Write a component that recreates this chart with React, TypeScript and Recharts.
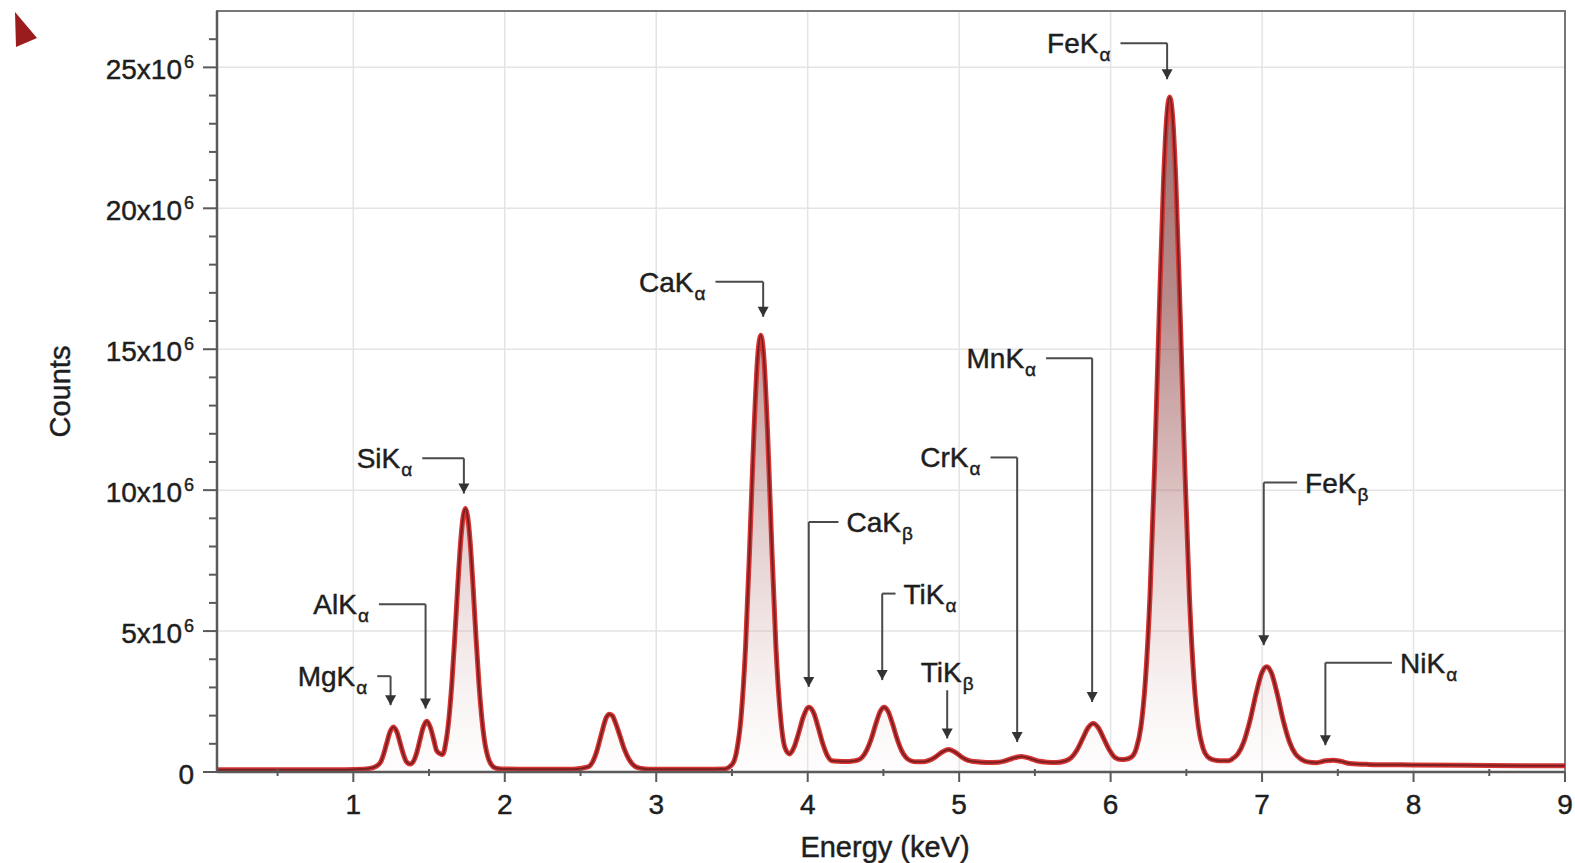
import React from "react";
import {
  ComposedChart,
  Area,
  Line,
  XAxis,
  YAxis,
  CartesianGrid,
  ReferenceLine,
  ReferenceDot,
  ReferenceArea,
} from "recharts";

// Energy (keV) sample positions
const energyKeV = [
  0.1, 0.3, 0.5, 0.7, 0.9, 1.0, 1.1, 1.15, 1.18, 1.2, 1.22, 1.24, 1.265, 1.29, 1.31, 1.33, 1.35, 1.375,
  1.4, 1.42, 1.44, 1.46, 1.485, 1.51, 1.53, 1.55, 1.57, 1.59, 1.61, 1.63, 1.65, 1.67, 1.69, 1.71, 1.725,
  1.74, 1.755, 1.77, 1.79, 1.81, 1.83, 1.85, 1.87, 1.89, 1.91, 1.94, 1.98, 2.1, 2.3, 2.45, 2.55, 2.58,
  2.61, 2.64, 2.67, 2.69, 2.71, 2.73, 2.76, 2.79, 2.82, 2.86, 2.9, 2.95, 3.1, 3.3, 3.45, 3.5, 3.53, 3.56,
  3.59, 3.62, 3.645, 3.67, 3.69, 3.71, 3.735, 3.76, 3.79, 3.82, 3.85, 3.88, 3.91, 3.94, 3.97, 4.0, 4.01,
  4.04, 4.07, 4.1, 4.13, 4.16, 4.2, 4.25, 4.3, 4.33, 4.36, 4.39, 4.42, 4.45, 4.48, 4.505, 4.53, 4.56,
  4.59, 4.62, 4.65, 4.68, 4.72, 4.76, 4.8, 4.84, 4.88, 4.93, 4.98, 5.02, 5.06, 5.1, 5.18, 5.26, 5.3,
  5.35, 5.41, 5.47, 5.52, 5.58, 5.64, 5.7, 5.74, 5.78, 5.82, 5.85, 5.885, 5.92, 5.95, 5.99, 6.03, 6.07,
  6.1, 6.14, 6.17, 6.2, 6.23, 6.26, 6.29, 6.32, 6.35, 6.37, 6.39, 6.41, 6.43, 6.46, 6.49, 6.52, 6.55,
  6.58, 6.61, 6.64, 6.68, 6.72, 6.78, 6.8, 6.84, 6.88, 6.92, 6.96, 7.0, 7.03, 7.06, 7.1, 7.14, 7.18,
  7.22, 7.26, 7.3, 7.36, 7.42, 7.47, 7.52, 7.58, 7.7, 8.0, 8.5, 9.0,
];

// Counts (in millions) read at each energy above
const countsM = [
  0.08, 0.08, 0.08, 0.08, 0.08, 0.09, 0.12, 0.2, 0.35, 0.63, 1.01, 1.39, 1.6, 1.39, 1.01, 0.64, 0.37, 0.28,
  0.41, 0.71, 1.14, 1.56, 1.8, 1.56, 1.17, 0.76, 0.66, 0.62, 1.02, 1.83, 3.1, 4.78, 6.64, 8.26, 9.06,
  9.35, 9.06, 8.26, 6.64, 4.78, 3.1, 1.83, 0.98, 0.51, 0.27, 0.14, 0.11, 0.1, 0.1, 0.1, 0.18, 0.36,
  0.78, 1.39, 1.93, 2.05, 2.0, 1.76, 1.29, 0.8, 0.45, 0.2, 0.13, 0.1, 0.1, 0.1, 0.11, 0.26, 0.71, 1.94,
  4.46, 8.42, 12.04, 14.75, 15.5, 14.75, 12.05, 8.42, 4.46, 2.0, 0.86, 0.64, 0.88, 1.38, 1.94, 2.28, 2.3,
  2.09, 1.57, 1.0, 0.58, 0.4, 0.38, 0.37, 0.39, 0.42, 0.53, 0.78, 1.18, 1.71, 2.16, 2.3, 2.16, 1.71,
  1.18, 0.76, 0.51, 0.4, 0.36, 0.36, 0.41, 0.52, 0.68, 0.8, 0.68, 0.52, 0.41, 0.37, 0.34, 0.35, 0.39,
  0.48, 0.55, 0.48, 0.39, 0.35, 0.34, 0.39, 0.51, 0.8, 1.24, 1.56, 1.72, 1.56, 1.24, 0.8, 0.51, 0.44,
  0.45, 0.54, 0.84, 1.6, 3.27, 6.26, 10.76, 16.1, 21.05, 23.2, 23.95, 23.2, 21.05, 16.1, 10.76, 6.26, 3.27,
  1.6, 0.84, 0.54, 0.43, 0.4, 0.4, 0.45, 0.64, 1.08, 1.82, 2.77, 3.54, 3.73, 3.54, 2.77, 1.82, 1.08,
  0.64, 0.45, 0.36, 0.33, 0.4, 0.42, 0.38, 0.3, 0.27, 0.25, 0.23, 0.22,
];

// Axis ticks
const xTicks = [0.5, 1, 1.5, 2, 2.5, 3, 3.5, 4, 4.5, 5, 5.5, 6, 6.5, 7, 7.5, 8, 8.5, 9];
const yTicks = [0, 1, 2, 3, 4, 5, 6, 7, 8, 9, 10, 11, 12, 13, 14, 15, 16, 17, 18, 19, 20, 21, 22, 23, 24, 25, 26];
const yMajorLabels: Record<number, string> = { 0: "0", 5: "5x10", 10: "10x10", 15: "15x10", 20: "20x10", 25: "25x10" };
const gridX = [1, 2, 3, 4, 5, 6, 7, 8];
const gridY = [5, 10, 15, 20, 25];

// Peak annotations: label, subscript, side of label, line start x, peak x, line y, arrow tip y
const annLabel = ["Mg", "Al", "Si", "Ca", "Ca", "Ti", "Ti", "Cr", "Mn", "Fe", "Fe", "Ni"];
const annSub = ["α", "α", "α", "α", "β", "α", "β", "α", "α", "α", "β", "α"];
const annSide = ["left", "left", "left", "left", "right", "right", "top", "left", "left", "left", "right", "right"];
const annX0 = [1.158, 1.169, 1.455, 3.391, 4.203, 4.58, 4.921, 5.207, 5.574, 6.065, 7.231, 7.858];
const annXp = [1.246, 1.477, 1.73, 3.706, 4.007, 4.492, 4.921, 5.383, 5.878, 6.373, 7.011, 7.418];
const annYLine = [3.4, 5.95, 11.13, 17.39, 8.87, 6.33, 2.9, 11.16, 14.68, 25.86, 10.27, 3.88];
const annYTip = [2.37, 2.25, 9.88, 16.15, 3.02, 3.26, 1.19, 1.065, 2.485, 24.58, 4.5, 0.95];

const data = energyKeV.map((e, i) => ({ e, c: countsM[i] }));

const FONT = "'Liberation Sans', Arial, Helvetica, sans-serif";
const TXT = "#1e1e1e";
const AX = "#5a5a5a";
const ANN = "#4a4a4a";
const textStyle = { stroke: TXT, strokeWidth: 0.45, paintOrder: "stroke" as const };

const XTick = (props: any) => {
  const { x, y, payload } = props;
  const v = payload.value as number;
  const major = Number.isInteger(v);
  return (
    <g>
      <line x1={x} x2={x} y1={y - (major ? 0 : 3)} y2={y + (major ? 10 : 4)} stroke={AX} strokeWidth={2} />
      {major && (
        <text x={x} y={y + 42} textAnchor="middle" fontSize={28} fontFamily={FONT} fill={TXT} style={textStyle}>
          {v}
        </text>
      )}
    </g>
  );
};

const YTick = (props: any) => {
  const { x, y, payload } = props;
  const v = payload.value as number;
  const major = v % 5 === 0;
  const lab = yMajorLabels[v];
  return (
    <g>
      <line x1={x - (major ? 14 : 8)} x2={x} y1={y} y2={y} stroke={AX} strokeWidth={2} />
      {major && (
        <text x={x - 23} y={y + 12} textAnchor="end" fontSize={28} fontFamily={FONT} fill={TXT} style={textStyle}>
          {lab}
          {v !== 0 && (
            <tspan dx={2} dy={-11} fontSize={18}>
              6
            </tspan>
          )}
        </text>
      )}
    </g>
  );
};

const LabelText = ({ x, y, anchor, main, sub }: any) => (
  <text x={x} y={y} textAnchor={anchor} fontSize={28} fontFamily={FONT} fill={TXT} style={textStyle}>
    {main}K
    <tspan dx={1} dy={8} fontSize={19}>
      {sub}
    </tspan>
  </text>
);

export default function App() {
  const annotations = annLabel.map((lab, i) => ({
    lab,
    sub: annSub[i],
    side: annSide[i],
    x0: annX0[i],
    xp: annXp[i],
    yl: annYLine[i],
    yt: annYTip[i],
  }));

  return (
    <div style={{ position: "relative", width: 1575, height: 863 }}>
      <style>{"html,body{margin:0;padding:0;overflow:hidden;}"}</style>
      <svg width={60} height={60} style={{ position: "absolute", left: 0, top: 0 }}>
        <polygon points="15,12 37,38 16,47" fill="#9b1c1c" />
      </svg>
      <ComposedChart
        width={1575}
        height={863}
        data={data}
        margin={{ top: 11, right: 10, bottom: 31, left: 0 }}
      >
        <defs>
          <linearGradient id="specFill" x1="0" y1="0" x2="0" y2="1">
            <stop offset="0" stopColor="#5e0f0f" stopOpacity={1} />
            <stop offset="0.3" stopColor="#7d2626" stopOpacity={0.9} />
            <stop offset="0.55" stopColor="#a05a5a" stopOpacity={0.7} />
            <stop offset="0.8" stopColor="#cfa5a5" stopOpacity={0.45} />
            <stop offset="1" stopColor="#f5e8e8" stopOpacity={0.2} />
          </linearGradient>
        </defs>
        <CartesianGrid stroke="#e4e4e4" strokeWidth={1.5} horizontalValues={gridY} verticalValues={gridX} />
        <XAxis
          dataKey="e"
          type="number"
          domain={[0.1, 9]}
          allowDataOverflow
          ticks={xTicks}
          interval={0}
          tickSize={0}
          tickMargin={0}
          tickLine={false}
          tick={<XTick />}
          height={60}
          axisLine={{ stroke: AX, strokeWidth: 2.5 }}
          label={(p: any) => {
            const vb = p.viewBox;
            return (
              <text
                x={vb.x + vb.width / 2 - 6}
                y={vb.y + 85}
                textAnchor="middle"
                fontSize={29}
                fontFamily={FONT}
                fill={TXT}
                style={textStyle}
              >
                Energy (keV)
              </text>
            );
          }}
        />
        <YAxis
          type="number"
          domain={[0, 27]}
          allowDataOverflow
          ticks={yTicks}
          interval={0}
          tickSize={0}
          tickMargin={0}
          tickLine={false}
          tick={<YTick />}
          width={217}
          axisLine={{ stroke: AX, strokeWidth: 2.5 }}
          label={(p: any) => {
            const vb = p.viewBox;
            const cx = vb.x + 60;
            const cy = vb.y + vb.height / 2;
            return (
              <text
                x={cx}
                y={cy}
                transform={`rotate(-90 ${cx} ${cy})`}
                textAnchor="middle"
                dominantBaseline="central"
                fontSize={29}
                fontFamily={FONT}
                fill={TXT}
                style={textStyle}
              >
                Counts
              </text>
            );
          }}
        />
        <ReferenceArea x1={0.1} x2={9} y1={0} y2={27} fill="none" stroke="#777" strokeWidth={2} />
        <Area
          type="monotone"
          dataKey="c"
          stroke="#d83434"
          strokeWidth={5}
          fill="url(#specFill)"
          isAnimationActive={false}
          dot={false}
          activeDot={false}
        />
        <Line
          type="monotone"
          dataKey="c"
          stroke="#7a2020"
          strokeWidth={2}
          dot={false}
          activeDot={false}
          isAnimationActive={false}
        />
        {annotations.map((a, i) =>
          a.side === "top" ? null : (
            <ReferenceLine
              key={`h${i}`}
              segment={[
                { x: a.x0, y: a.yl },
                { x: a.xp, y: a.yl },
              ]}
              stroke={ANN}
              strokeWidth={2}
            />
          )
        )}
        {annotations.map((a, i) => (
          <ReferenceLine
            key={`v${i}`}
            segment={[
              { x: a.xp, y: a.yl },
              { x: a.xp, y: a.yt },
            ]}
            stroke={ANN}
            strokeWidth={2}
          />
        ))}
        {annotations.map((a, i) => (
          <ReferenceDot
            key={`t${i}`}
            x={a.xp}
            y={a.yt}
            r={1}
            shape={(p: any) => (
              <polygon
                points={`${p.cx - 5.5},${p.cy - 10} ${p.cx + 5.5},${p.cy - 10} ${p.cx},${p.cy}`}
                fill="#333"
              />
            )}
          />
        ))}
        {annotations.map((a, i) => (
          <ReferenceDot
            key={`l${i}`}
            x={a.x0}
            y={a.yl}
            r={1}
            shape={(p: any) => {
              if (a.side === "left")
                return <LabelText x={p.cx - 10} y={p.cy + 10} anchor="end" main={a.lab} sub={a.sub} />;
              if (a.side === "right")
                return <LabelText x={p.cx + 8} y={p.cy + 10} anchor="start" main={a.lab} sub={a.sub} />;
              return <LabelText x={p.cx} y={p.cy - 8} anchor="middle" main={a.lab} sub={a.sub} />;
            }}
          />
        ))}
      </ComposedChart>
    </div>
  );
}
